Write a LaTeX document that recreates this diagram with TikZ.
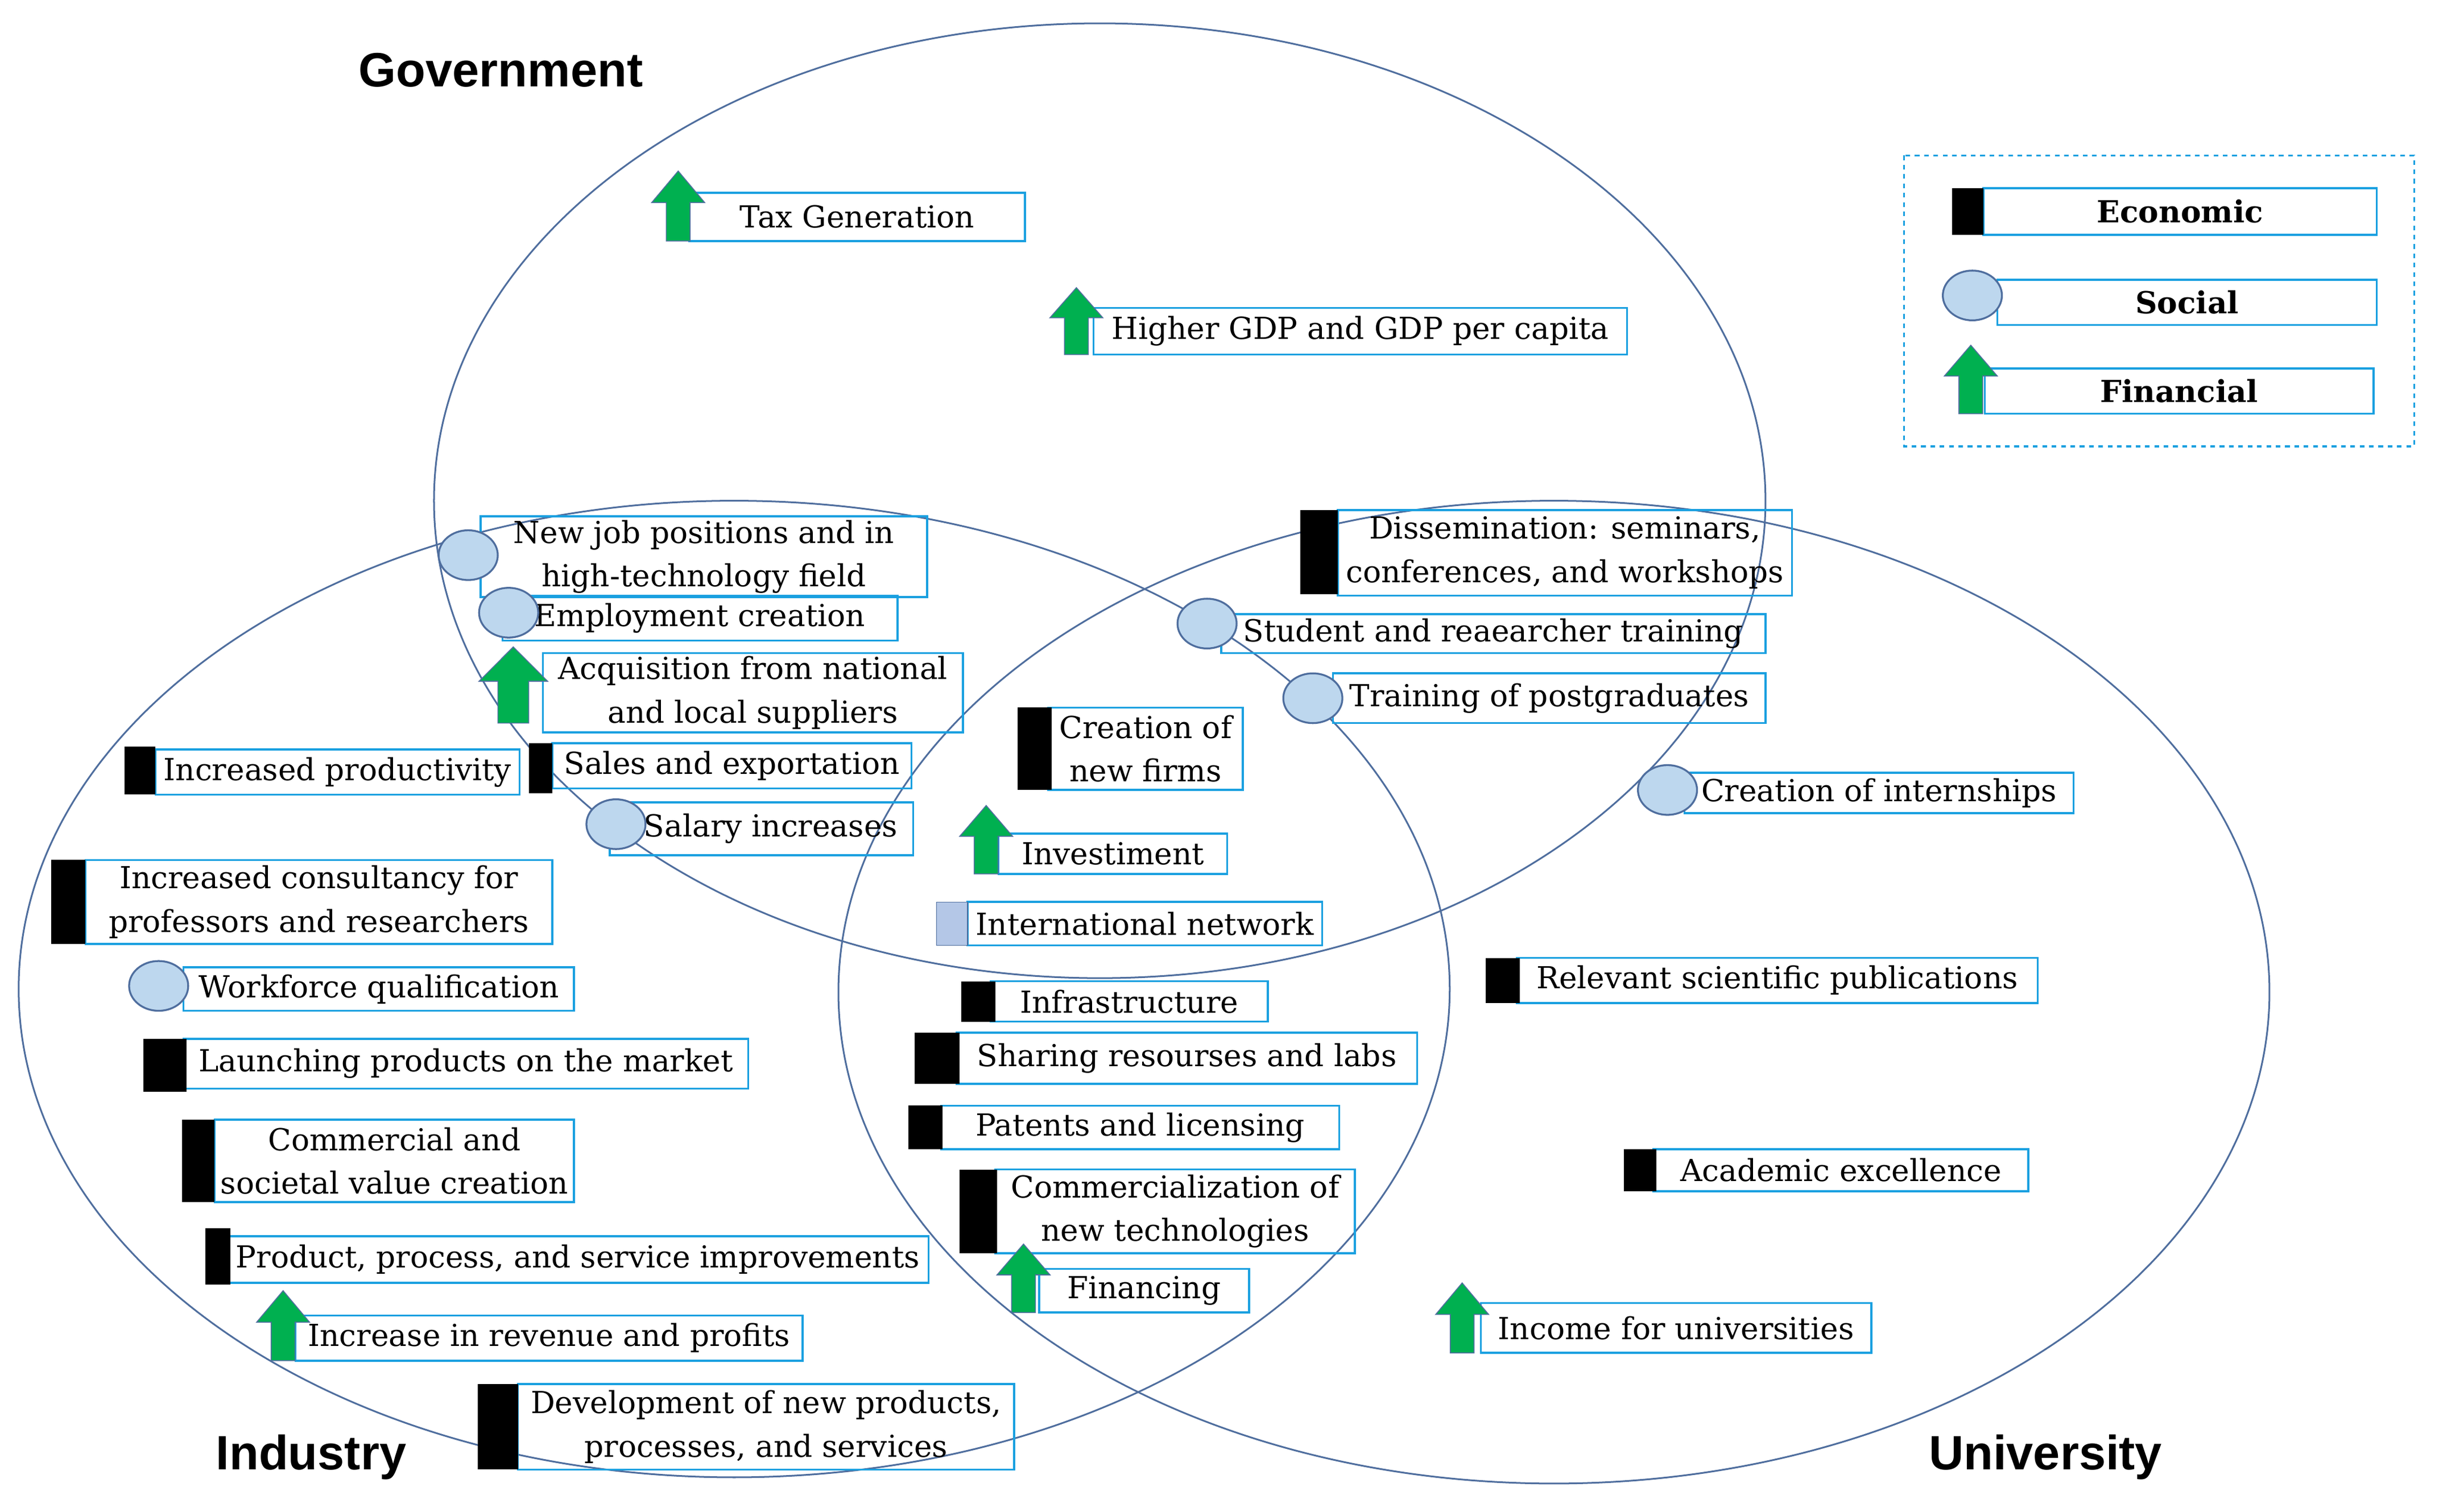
\documentclass[tikz,border=0pt]{standalone}
\usepackage{fontspec}
\setmainfont{DejaVu Serif}
\newfontfamily\lsans{Liberation Sans}
\definecolor{ellc}{HTML}{4F6E9E}
\definecolor{boxc}{HTML}{1AA0E0}
\definecolor{grn}{HTML}{00B050}
\definecolor{soft}{HTML}{BDD7EE}
\definecolor{netc}{HTML}{B4C7E7}
\begin{document}
\begin{tikzpicture}[x=1pt,y=-1pt,
  bx/.style={draw=boxc,line width=1.3pt,inner sep=0pt,align=center,font=\fontsize{19.5}{28}\selectfont},
  ell/.style={draw=ellc,line width=1.1pt},
  eco/.style={fill=black},
  soc/.style={fill=soft,draw=ellc,line width=1.2pt},
  fin/.style={fill=grn,draw=ellc,line width=0.6pt},
  lab/.style={font=\lsans\bfseries\fontsize{31}{34}\selectfont}]
\useasboundingbox (0,0) rectangle (1568,972);
\fill[white] (0,0) rectangle (1568,972);
\draw[ell] (707,322) ellipse [x radius=428,y radius=307];
\draw[ell] (472,636) ellipse [x radius=460,y radius=314];
\draw[ell] (999,638) ellipse [x radius=460,y radius=316];
\newcommand{\bx}[6]{\node[bx,minimum width=#4-#2,minimum height=#5-#3] (#1) at ({(#2+#4)/2},{(#3+#5)/2}) {#6};}
\newcommand{\mrect}[4]{\fill[eco] (#1,#2) rectangle (#3,#4);}
\newcommand{\mcirc}[2]{\draw[soc] (#1,#2) ellipse [x radius=19,y radius=16];}
\newcommand{\marrow}[4]{\draw[fin] (#1,#2) -- ({#1+#4},{#2+0.45*(#3-#2)}) -- ({#1+0.45*#4},{#2+0.45*(#3-#2)}) -- ({#1+0.45*#4},#3) -- ({#1-0.45*#4},#3) -- ({#1-0.45*#4},{#2+0.45*(#3-#2)}) -- ({#1-#4},{#2+0.45*(#3-#2)}) -- cycle;}
\bx{tax}{443}{124}{659}{155}{Tax Generation}\marrow{436}{110}{155}{17}
\bx{gdp}{703}{198}{1046}{228}{Higher GDP and GDP per capita}\marrow{692}{185}{228}{17}
\bx{job}{309}{332}{596}{384}{New job positions and in\\high-technology field}\mcirc{301}{357}
\bx{emp}{323}{383}{577}{412}{Employment creation}\mcirc{327}{394}
\bx{acq}{349}{420}{619}{471}{Acquisition from national\\and local suppliers}\marrow{330}{416}{465}{22}
\bx{prod}{100}{482}{334}{511}{Increased productivity}\mrect{80}{480}{100}{511}
\bx{sales}{355}{478}{586}{507}{Sales and exportation}\mrect{340}{478}{355}{510}
\bx{sal}{392}{516}{587}{550}{\hspace{12pt}Salary increases}\mcirc{396}{530}
\bx{cons}{55}{553}{355}{607}{Increased consultancy for\\professors and researchers}\mrect{33}{553}{55}{607}
\bx{work}{118}{622}{369}{650}{Workforce qualification}\mcirc{102}{634}
\bx{laun}{118}{668}{481}{700}{Launching products on the market}\mrect{92}{668}{120}{702}
\bx{comm}{138}{720}{369}{773}{Commercial and\\societal value creation}\mrect{117}{720}{138}{773}
\bx{ppi}{146}{795}{597}{825}{Product, process, and service improvements}\mrect{132}{790}{148}{826}
\bx{rev}{190}{846}{516}{875}{Increase in revenue and profits}\marrow{182}{830}{875}{17}
\bx{dev}{333}{890}{652}{945}{Development of new products,\\processes, and services}\mrect{307}{890}{333}{945}
\bx{dis}{860}{328}{1152}{383}{Dissemination: seminars,\\conferences, and workshops}\mrect{836}{328}{860}{382}
\bx{stu}{785}{395}{1135}{420}{Student and reaearcher training}\mcirc{776}{401}
\bx{pg}{857}{433}{1135}{465}{Training of postgraduates}\mcirc{844}{449}
\bx{firm}{674}{455}{799}{508}{Creation of\\new firms}\mrect{654}{455}{676}{508}
\bx{intern}{1083}{497}{1333}{523}{Creation of internships}\mcirc{1072}{508}
\bx{inv}{642}{536}{789}{562}{Investiment}\marrow{634}{518}{562}{17}
\bx{net}{622}{580}{850}{608}{International network}\draw[fill=netc,draw=ellc] (602,580) rectangle (622,608);
\bx{inf}{637}{631}{815}{657}{Infrastructure}\mrect{618}{631}{640}{657}
\bx{share}{615}{664}{911}{697}{Sharing resourses and labs}\mrect{588}{664}{617}{697}
\bx{pat}{605}{711}{861}{739}{Patents and licensing}\mrect{584}{711}{606}{739}
\bx{cot}{640}{752}{871}{806}{Commercialization of\\new technologies}\mrect{617}{752}{641}{806}
\bx{finc}{668}{816}{803}{844}{Financing}\marrow{658}{800}{844}{17}
\bx{pub}{975}{616}{1310}{645}{Relevant scientific publications}\mrect{955}{616}{977}{645}
\bx{acad}{1063}{739}{1304}{766}{Academic excellence}\mrect{1044}{739}{1065}{766}
\bx{inc}{952}{838}{1203}{870}{Income for universities}\marrow{940}{825}{870}{17}
\draw[boxc,dashed,line width=1.2pt] (1224,100) rectangle (1552,287);
\bx{leco}{1275}{121}{1528}{151}{\bfseries Economic}\mrect{1255}{121}{1275}{151}
\bx{lsoc}{1284}{180}{1528}{209}{\bfseries Social}\mcirc{1268}{190}
\bx{lfin}{1276}{237}{1526}{266}{\bfseries Financial}\marrow{1267}{222}{266}{17}
\node[lab] (g) at (322,45) {Government};
\node[lab] (i) at (200,937) {Industry};
\node[lab] (u) at (1315,937) {University};
\end{tikzpicture}
\end{document}
